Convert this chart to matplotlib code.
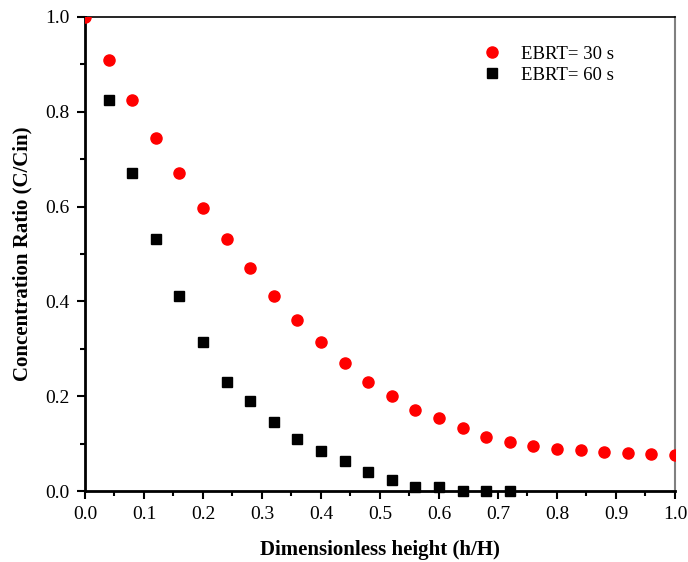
import numpy as np
import matplotlib
matplotlib.use('Agg')
import matplotlib.pyplot as plt
from matplotlib.ticker import MultipleLocator

plt.rcParams['font.family'] = ['Liberation Serif', 'DejaVu Serif']

# dimensionless height and concentration ratio for the two bed contact times
h_30 = [0.00, 0.04, 0.08, 0.12, 0.16, 0.20, 0.24, 0.28, 0.32, 0.36, 0.40, 0.44, 0.48,
        0.52, 0.56, 0.60, 0.64, 0.68, 0.72, 0.76, 0.80, 0.84, 0.88, 0.92, 0.96, 1.00]
c_30 = [1.000, 0.910, 0.825, 0.745, 0.670, 0.598, 0.532, 0.470, 0.412, 0.360, 0.315,
        0.270, 0.229, 0.200, 0.170, 0.155, 0.133, 0.115, 0.104, 0.095, 0.089, 0.086,
        0.083, 0.081, 0.079, 0.077]

h_60 = [0.04, 0.08, 0.12, 0.16, 0.20, 0.24, 0.28, 0.32, 0.36, 0.40, 0.44, 0.48,
        0.52, 0.56, 0.60, 0.64, 0.68, 0.72]
c_60 = [0.825, 0.670, 0.532, 0.412, 0.315, 0.230, 0.190, 0.146, 0.110, 0.085, 0.064,
        0.040, 0.023, 0.008, 0.008, 0.001, 0.001, 0.001]

fig = plt.figure(figsize=(6.88, 5.62), dpi=100)
ax = fig.add_axes([0.1235, 0.1263, 0.8575, 0.8435])

ax.plot(h_60, c_60, 's', color='black', markersize=7, label='EBRT= 60 s', clip_on=False, zorder=3)
ax.plot(h_30, c_30, 'o', color='#ff0000', markersize=8, label='EBRT= 30 s', clip_on=True, zorder=4)

ax.set_xlim(0, 1.0)
ax.set_ylim(0, 1.0)
ax.xaxis.set_major_locator(MultipleLocator(0.1))
ax.xaxis.set_minor_locator(MultipleLocator(0.05))
ax.yaxis.set_major_locator(MultipleLocator(0.2))
ax.yaxis.set_minor_locator(MultipleLocator(0.1))
ax.tick_params(which='both', direction='out', top=False, right=False, width=1.5, labelsize=14)
ax.tick_params(which='major', length=6, pad=5)
ax.tick_params(which='minor', length=3.5)

ax.spines['left'].set_linewidth(2)
ax.spines['bottom'].set_linewidth(2)
ax.spines['top'].set_linewidth(1.2)
ax.spines['right'].set_linewidth(1.5)
ax.spines['right'].set_color('#808080')

ax.set_xlabel('Dimensionless height (h/H)', fontsize=15, fontweight='bold', labelpad=12)
ax.set_ylabel('Concentration Ratio (C/Cin)', fontsize=15, fontweight='bold', labelpad=9)

handles, labels = ax.get_legend_handles_labels()
ax.legend(handles[::-1], labels[::-1], loc='upper right', bbox_to_anchor=(0.925, 0.975),
          frameon=False, fontsize=13.5, handletextpad=0.8, labelspacing=0.2,
          handlelength=1.5)

plt.savefig('out.png', dpi=100)
